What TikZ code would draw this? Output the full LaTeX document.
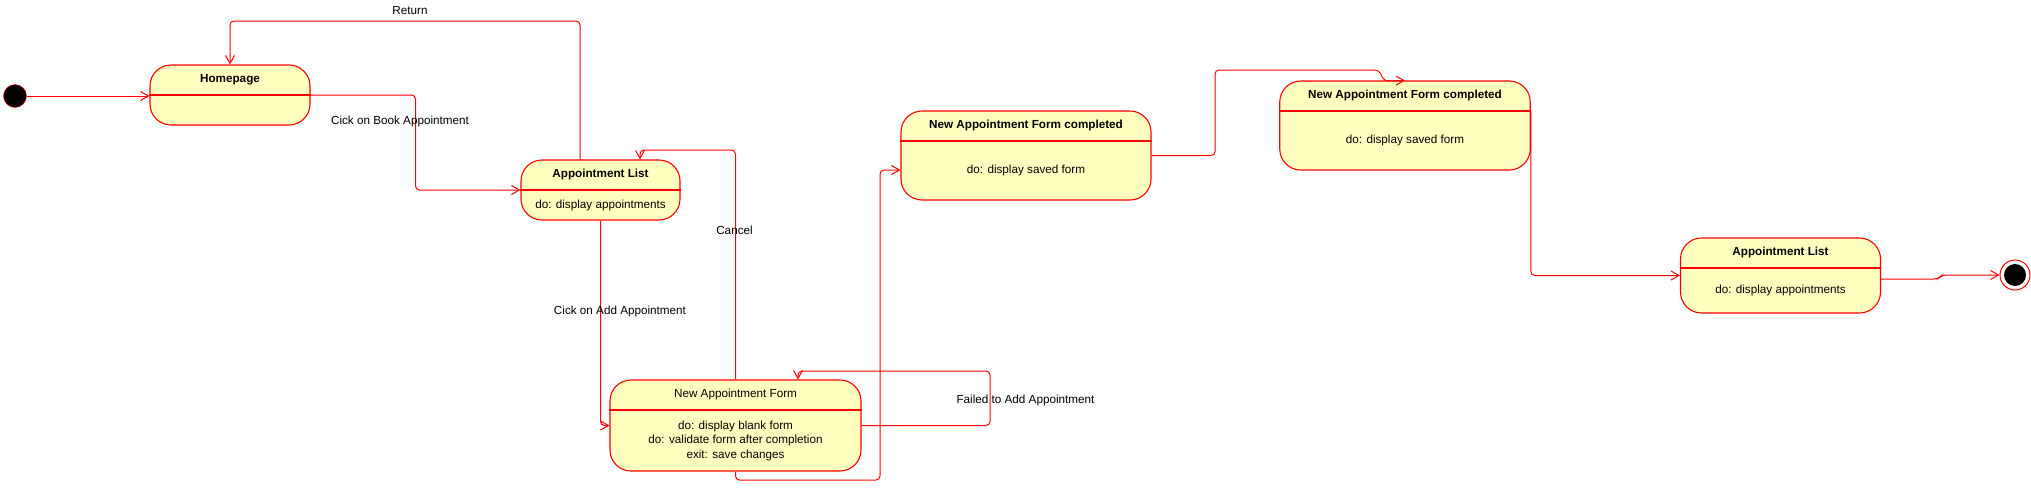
\documentclass[tikz,border=0pt]{standalone}
\usepackage{fontspec}
\setmainfont{Liberation Sans}
\usetikzlibrary{arrows.meta,calc,positioning}
\definecolor{statefill}{HTML}{FFFFC0}
\definecolor{statered}{HTML}{FF0000}

\begin{document}
\begin{tikzpicture}[x=1pt, y=-1pt,
    every node/.style={font=\fontsize{11.7}{14.3}\selectfont},
    state/.style={draw=statered, fill=statefill, line width=1.1pt, rounded corners=21pt, inner sep=0pt},
    divider/.style={draw=statered, line width=1.1pt},
    statetitle/.style={font=\fontsize{11.7}{14.3}\selectfont\bfseries},
    statetext/.style={align=center},
    transition/.style={draw=statered, line width=1pt, rounded corners=4pt, -{Straight Barb[length=8pt,width=9pt]}}]
  \path[fill=white] (0,0) rectangle (2031,491);

  % states
  \begin{scope}
    \node[state, minimum width=160pt, minimum height=60pt] (home) at (230,95) {};
    \node[state, minimum width=159pt, minimum height=60pt] (list) at (600.5,190) {};
    \node[state, minimum width=251pt, minimum height=91pt] (form) at (735.5,425.5) {};
    \node[state, minimum width=250pt, minimum height=89pt] (formdone) at (1026,155.5) {};
    \node[state, minimum width=250.5pt, minimum height=89pt] (formsaved) at (1405,125.5) {};
    \node[state, minimum width=200pt, minimum height=75pt] (listend) at (1780.5,275.5) {};
  \end{scope}
  \foreach \s in {home,list,form,formdone,formsaved,listend}
    \draw[divider] ([yshift=-30.5pt]\s.north west) -- ([yshift=-30.5pt]\s.north east);

  % pseudo states
  \node[circle, draw=statered, fill=black, minimum size=23pt, inner sep=0pt] (start) at (15,96) {};
  \node[circle, draw=statered, fill=white, line width=1pt, minimum size=30pt, inner sep=0pt] (stop) at (2015,275) {};
  \node[circle, fill=black, minimum size=22pt, inner sep=0pt] (stopdot) at (stop) {};

  % compartments
  \node[statetitle] (hometitle) at ([yshift=-15.5pt]home.north) {Homepage};
  \node[statetitle] (listtitle) at ([yshift=-15.5pt]list.north) {Appointment List};
  \node[statetext] (listbody) at ($(list.south)!0.5!([yshift=-30.5pt]list.north)$) {do: display appointments};
  \node[statetext] (formtitle) at ([yshift=-15.5pt]form.north) {New Appointment Form};
  \node[statetext] (formbody) at ($(form.south)!0.5!([yshift=-30.5pt]form.north)$)
    {do: display blank form\\do: validate form after completion\\exit: save changes};
  \node[statetitle] (formdonetitle) at ([yshift=-15.5pt]formdone.north) {New Appointment Form completed};
  \node[statetext] (formdonebody) at ($(formdone.south)!0.5!([yshift=-30.5pt]formdone.north)$) {do: display saved form};
  \node[statetitle] (formsavedtitle) at ([yshift=-15.5pt]formsaved.north) {New Appointment Form completed};
  \node[statetext] (formsavedbody) at ($(formsaved.south)!0.5!([yshift=-30.5pt]formsaved.north)$) {do: display saved form};
  \node[statetitle] (listendtitle) at ([yshift=-15.5pt]listend.north) {Appointment List};
  \node[statetext] (listendbody) at ($(listend.south)!0.5!([yshift=-30.5pt]listend.north)$) {do: display appointments};

  % transitions
  \draw[transition] (start.east) -- (start.east -| home.west);
  \draw[transition] (home.east) -- (415.5,95) |- (list.west);
  \draw[transition] (list.north -| 580,0) |- (230,21) -- (home.north);
  \draw[transition] (form.north) |- (640,150) -- (list.north -| 640,0);
  \draw[transition] (list.south) |- (form.west);
  \draw[transition] (form.east) -| (990,371) -| (form.north -| 798,0);
  \draw[transition] (form.south) -- (735.5,480) -| (880,170) -- (formdone.west |- 0,170);
  \draw[transition] (formdone.east) -| (1215,70) -- (1379,70) -- (1384,81) -- (formsaved.north);
  \draw[transition] ([yshift=-30.5pt]formsaved.north east) |- (listend.west);
  \draw[transition] (listend.east |- 0,279) -- (1938,279) -- (1942,275) -- (stop.west);

  % guard labels
  \node (lblbook) at (400,121) {Cick on Book Appointment};
  \node (lblreturn) at (410,11) {Return};
  \node (lblcancel) at (734.5,230.5) {Cancel};
  \node (lbladd) at (620,311) {Cick on Add Appointment};
  \node (lblfailed) at (1025.5,400.5) {Failed to Add Appointment};
\end{tikzpicture}
\end{document}
